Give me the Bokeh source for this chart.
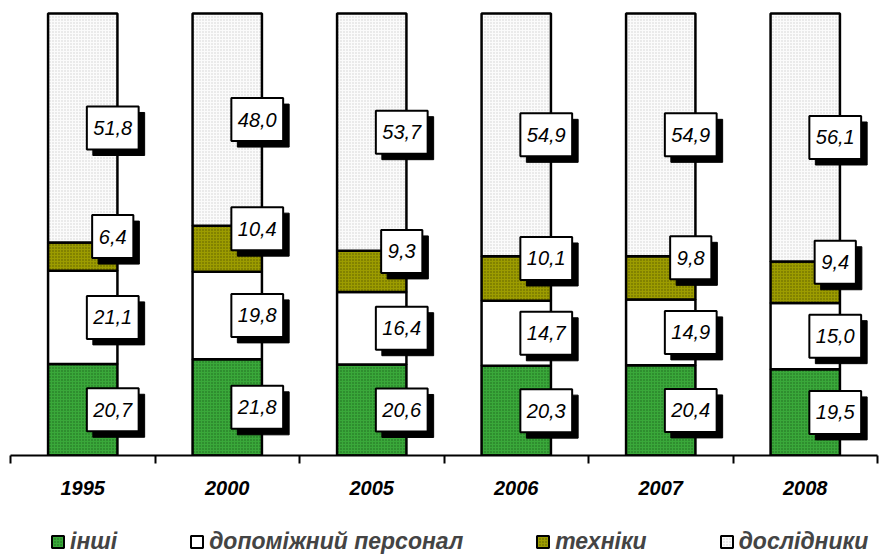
import numpy as np
from bokeh.plotting import figure
from bokeh.layouts import column
from bokeh.models import FixedTicker, Legend, LegendItem, ColumnDataSource, Range1d
from bokeh.core.properties import value
from bokeh.embed import file_html
from bokeh.resources import INLINE

years = ["1995", "2000", "2005", "2006", "2007", "2008"]
inshi = [20.7, 21.8, 20.6, 20.3, 20.4, 19.5]
dopomizhnyi = [21.1, 19.8, 16.4, 14.7, 14.9, 15.0]
tekhniky = [6.4, 10.4, 9.3, 10.1, 9.8, 9.4]
doslidnyky = [51.8, 48.0, 53.7, 54.9, 54.9, 56.1]
series_names = ["інші", "допоміжний персонал", "техніки", "дослідники"]

FW, FH = 867, 445
YMAX = 100.68
px_x = FW / 6.0
px_y = FH / YMAX

xs = list(range(len(years)))

p = figure(frame_width=FW, frame_height=FH, output_backend="svg", toolbar_location=None,
           x_range=Range1d(-0.5, 5.5), y_range=Range1d(0, YMAX),
           y_axis_location=None, min_border_left=10, min_border_top=10,
           min_border_right=12, min_border_bottom=71)
p.outline_line_color = None
p.xgrid.visible = False
p.ygrid.visible = False
p.background_fill_color = "white"
p.border_fill_color = "white"

styles = [
    dict(fill_color="#3aa83a", hatch_pattern=".", hatch_color="#1c651c", hatch_scale=3, hatch_weight=1.2),
    dict(fill_color="white"),
    dict(fill_color="#9c9c00", hatch_pattern=".", hatch_color="#5a5a00", hatch_scale=3, hatch_weight=1.2),
    dict(fill_color="#fbfbfb", hatch_pattern=".", hatch_color="#cfcfcf", hatch_scale=3, hatch_weight=1.0),
]
bottom = np.zeros(len(years))
for st, vals in zip(styles, [inshi, dopomizhnyi, tekhniky, doslidnyky]):
    top = bottom + np.array(vals)
    s = ColumnDataSource(dict(x=xs, top=top, bottom=bottom.copy()))
    p.vbar(x="x", top="top", bottom="bottom", width=0.48, source=s,
           line_color="black", line_width=2.5, **st)
    bottom = top

# data labels
lx, ly, lt, lw = [], [], [], []
bottom = np.zeros(len(years))
for k, vals in enumerate([inshi, dopomizhnyi, tekhniky, doslidnyky]):
    for i, v in enumerate(vals):
        mid = bottom[i] + v / 2.0
        if k == 2:
            mid += 20 / px_y
        lx.append(i + 30 / px_x)
        ly.append(mid)
        t = f"{v:.1f}".replace(".", ",")
        lt.append(t)
        lw.append(15 + 10.6 * (len(t) - 1) + 5)
    bottom = bottom + np.array(vals)

lab = ColumnDataSource(dict(x=lx, y=ly, t=lt, w=lw,
                            sx=[v + 6 / px_x for v in lx], sy=[v - 6 / px_y for v in ly]))
p.rect(x="sx", y="sy", width="w", height=43, width_units="screen", height_units="screen",
       fill_color="black", line_color="black", source=lab)
p.rect(x="x", y="y", width="w", height=43, width_units="screen", height_units="screen",
       fill_color="white", line_color="black", line_width=2, source=lab)
p.text(x="x", y="y", text="t", source=lab, text_align="center", text_baseline="middle",
       text_font=value("Liberation Sans"), text_font_style="italic", text_font_size="20px",
       text_color="black")

ax = p.xaxis[0]
ax.ticker = FixedTicker(ticks=xs, minor_ticks=[i - 0.5 for i in range(len(years) + 1)])
ax.major_label_overrides = {i: y for i, y in enumerate(years)}
ax.major_tick_line_color = None
ax.major_tick_out = 0
ax.major_tick_in = 0
ax.minor_tick_out = 8
ax.minor_tick_in = 0
ax.minor_tick_line_width = 2
ax.minor_tick_line_color = "black"
ax.axis_line_width = 2
ax.axis_line_color = "black"
ax.major_label_standoff = 17
ax.major_label_text_font = "Liberation Sans"
ax.major_label_text_font_style = "bold italic"
ax.major_label_text_font_size = "20px"
ax.major_label_text_color = "black"

# legend strip below the chart (proxy glyphs sit outside the strip's visible range)
q = figure(width=889, height=30, output_backend="svg", toolbar_location=None,
           x_range=Range1d(0, 1), y_range=Range1d(0, 1),
           x_axis_location=None, y_axis_location=None, min_border=0)
q.outline_line_color = None
q.xgrid.visible = False
q.ygrid.visible = False
proxies = []
for st in styles:
    e = ColumnDataSource(dict(x=[0.5], top=[-5], bottom=[-6]))
    proxies.append(q.vbar(x="x", top="top", bottom="bottom", width=0.1, source=e,
                          line_color="black", line_width=2, **st))
items = [LegendItem(label=n, renderers=[r], index=0) for n, r in zip(series_names, proxies)]
leg = Legend(items=items, orientation="horizontal", location=(40, 1),
             label_text_font="Liberation Sans", label_text_font_style="bold italic",
             label_text_font_size="23px", glyph_width=15, glyph_height=15,
             label_height=16, label_standoff=5, spacing=72, padding=0, margin=0,
             border_line_color=None, background_fill_alpha=0)
q.add_layout(leg)

layout = column(p, q, spacing=0)
open("out.html", "w").write(file_html(layout, INLINE))
